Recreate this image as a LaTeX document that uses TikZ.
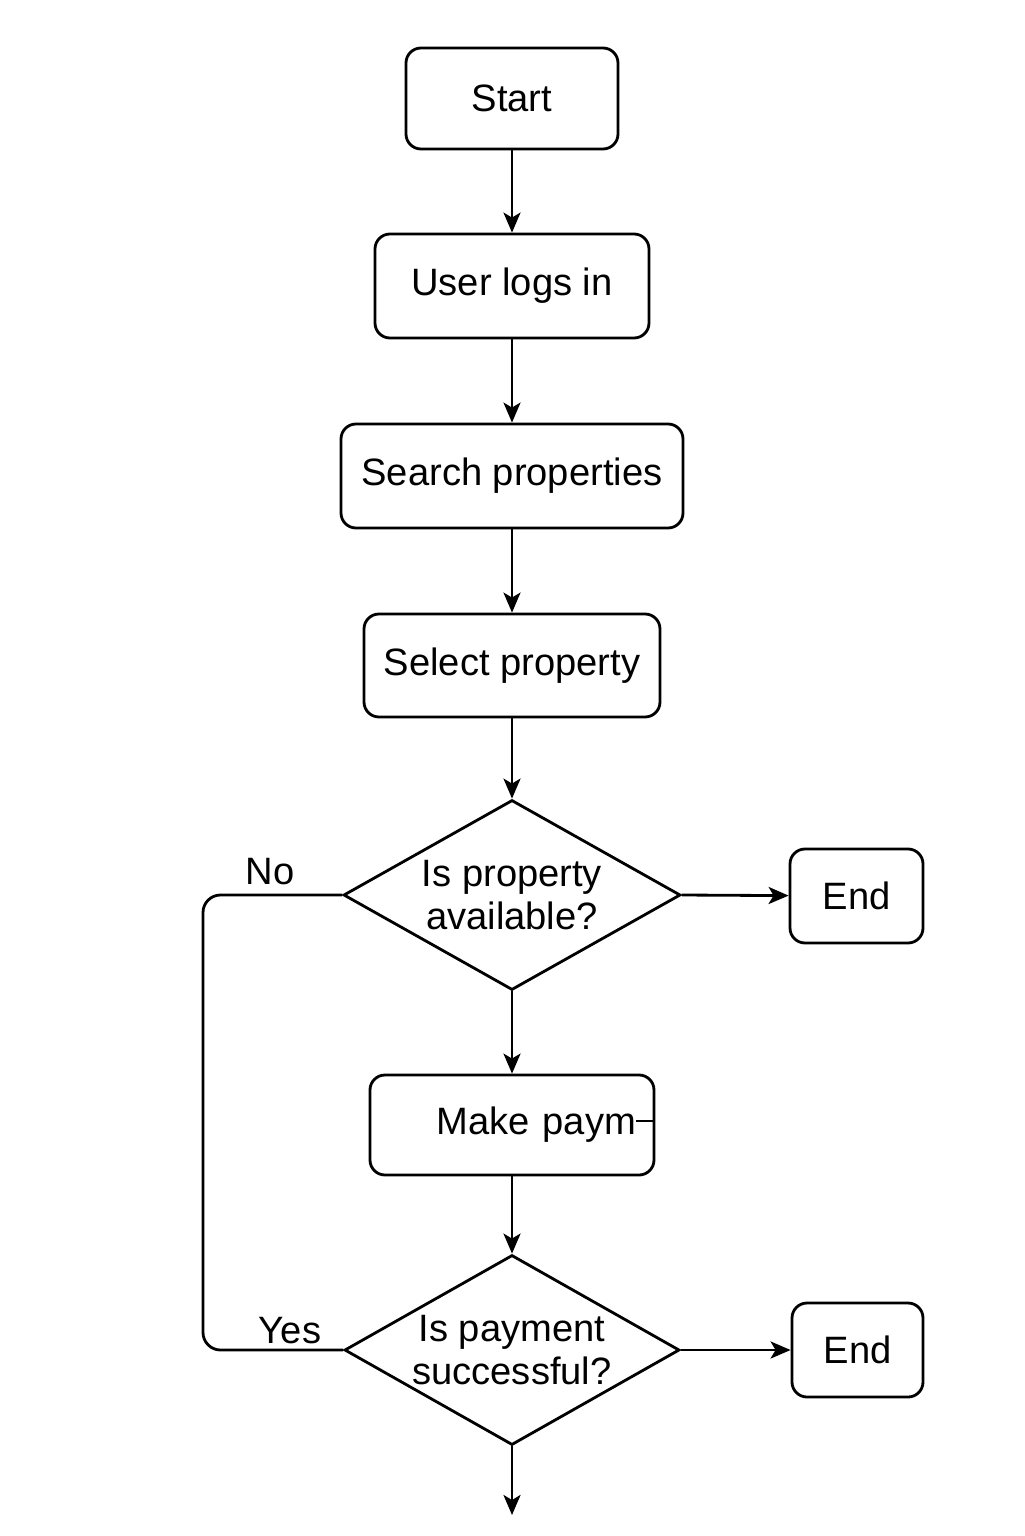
\documentclass[tikz,border=0pt]{standalone}
\usepackage{fontspec}
\setmainfont{Liberation Sans}
\usetikzlibrary{shapes.geometric,arrows.meta}

\def\xmid{10.24}
\def\xloop{4.06}

\tikzset{
  flowbox/.style={rounded corners=0.3cm, rectangle, draw, line width=1.6pt, align=center,
    font=\fontsize{21.7}{24}\selectfont},
  decision/.style={diamond, draw, line width=1.6pt, align=center, inner sep=0pt, shape aspect=1.77,
    font=\fontsize{21.7}{24}\selectfont},
  flow/.style={line width=1.6pt, -{Stealth[length=0.4cm, width=0.34cm, inset=0.1cm]}}
}

\begin{document}
\begin{tikzpicture}
    \useasboundingbox (0,0) rectangle (20.48,-30.72);

    \node[flowbox, minimum width=4.24cm, minimum height=2.02cm] (start) at (\xmid, -1.97) {Start};
    \node[flowbox, minimum width=5.48cm, minimum height=2.08cm] (login) at (\xmid, -5.72) {User logs in};
    \node[flowbox, minimum width=6.84cm, minimum height=2.08cm] (search) at (\xmid, -9.52) {Search properties};
    \node[flowbox, minimum width=5.92cm, minimum height=2.06cm] (select) at (\xmid, -13.31) {Select property};

    \node[decision, minimum width=6.74cm, minimum height=3.8cm] (available) at (\xmid, -17.9)
      {Is property\\available?};
    \node[flowbox, minimum width=2.66cm, minimum height=1.88cm] (end_one) at (17.13, -17.92) {End};

    \node[flowbox, text width=5.68cm, inner xsep=0pt, align=right, minimum height=2.0cm] (payment) at (\xmid, -22.5)
      {Make paym\rule[7.2pt]{0.36cm}{1.5pt}};

    \node[decision, minimum width=6.7cm, minimum height=3.8cm] (successful) at (\xmid, -27.0)
      {Is payment\\successful?};
    \node[flowbox, minimum width=2.62cm, minimum height=1.88cm] (end_two) at (17.15, -27.0) {End};

    \coordinate (exit) at (\xmid, -30.3);

    \draw[flow] (start)      -- (login);
    \draw[flow] (login)      -- (search);
    \draw[flow] (search)     -- (select);
    \draw[flow] (select)     -- (available.north);
    \draw[flow] (available.east) -- (end_one);
    \draw[flow] (available.south) -- (payment);
    \draw[flow] (payment)    -- (successful.north);
    \draw[flow] (successful.east) -- (end_two);
    \draw[flow] (successful.south) -- (exit);

    % loop between the two decisions
    \draw[line width=1.6pt, rounded corners=0.35cm] (available.west) -| (\xloop, -22) |- (successful.west);

    \node[font=\fontsize{21.7}{24}\selectfont] (no_label)  at (5.4, -17.44) {No};
    \node[font=\fontsize{21.7}{24}\selectfont] (yes_label) at (5.8, -26.62) {Yes};
  \end{tikzpicture}
\end{document}
